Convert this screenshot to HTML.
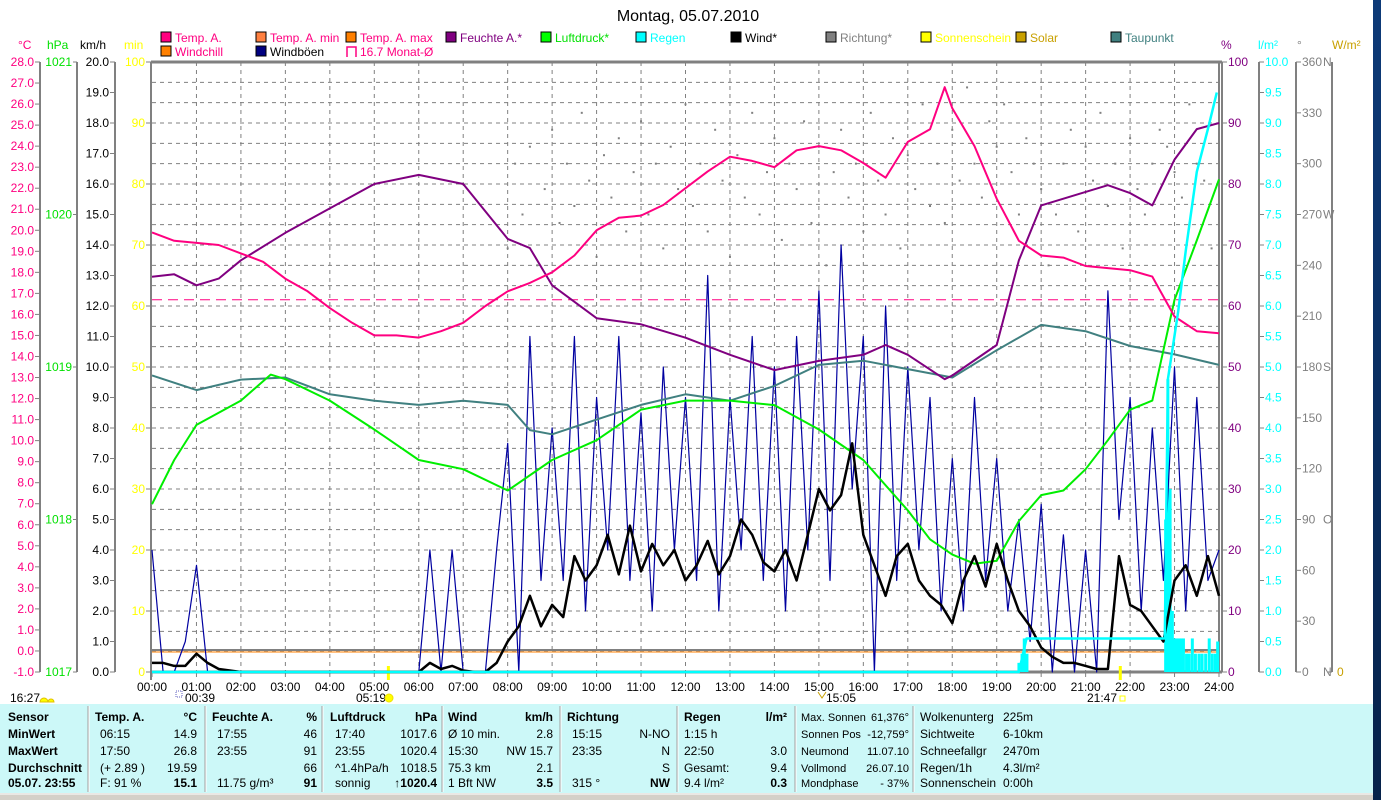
<!DOCTYPE html>
<html><head><meta charset="utf-8"><style>
html,body{margin:0;padding:0;background:#fff;}
svg{display:block;font-family:"Liberation Sans",sans-serif;}
</style></head><body>
<svg id="chart" width="1381" height="800" viewBox="0 0 1381 800" xmlns="http://www.w3.org/2000/svg">
<rect x="0" y="0" width="1381" height="800" fill="#fff"/>
<defs><linearGradient id="strip" x1="0" y1="0" x2="0" y2="1"><stop offset="0" stop-color="#0d3a78"/><stop offset="1" stop-color="#06224a"/></linearGradient></defs>
<rect x="1373" y="0" width="8" height="800" fill="url(#strip)"/>
<text x="688" y="21" font-size="16" text-anchor="middle" fill="#000">Montag, 05.07.2010</text>
<g id="legend"></g>
<g id="axes"></g>
<g id="grid"></g>
<g id="series"></g>
<g id="table"></g>
</svg>
<script>
// ---------- data ----------
const tempTimes=[0,0.5,1,1.5,2,2.5,3,3.5,4,4.5,5,5.5,6,6.5,7,7.5,8,8.5,9,9.5,10,10.5,11,11.5,12,12.5,13,13.5,14,14.5,15,15.5,16,16.5,17,17.5,17.83,18,18.5,19,19.5,20,20.5,21,21.5,22,22.5,23,23.5,24];
const tempVals=[19.9,19.5,19.4,19.3,18.9,18.5,17.7,17.1,16.3,15.6,15.0,15.0,14.9,15.2,15.6,16.4,17.1,17.5,18.0,18.8,20.0,20.6,20.7,21.2,22.0,22.8,23.5,23.3,23.0,23.8,24.0,23.8,23.2,22.5,24.2,24.8,26.8,25.8,24.0,21.5,19.5,18.8,18.7,18.3,18.2,18.1,17.8,15.9,15.2,15.1];
const humTimes=[0,0.5,1,1.5,2,3,4,5,6,7,8,8.5,9,10,11,12,13,14,15,16,16.5,17,17.83,18,19,19.5,20,21,21.5,22,22.5,23,23.5,24];
const humVals=[64.8,65.2,63.4,64.5,67.5,72,76,80,81.5,80,71,69.5,63.4,58,57,54.8,52,49.5,51,52,53.6,52,48,48.6,53.6,67.5,76.5,78.7,79.8,78.5,76.5,84,89,90];
const presTimes=[0,0.5,1,2,2.67,3,4,5,6,7,8,9,10,11,12,13,14,15,16,17,17.5,18,18.5,19,19.5,20,20.5,21,21.5,22,22.5,23,23.5,24];
const presVals=[1018.1,1018.39,1018.62,1018.78,1018.95,1018.92,1018.78,1018.59,1018.39,1018.33,1018.19,1018.39,1018.52,1018.72,1018.78,1018.78,1018.75,1018.59,1018.39,1018.06,1017.87,1017.77,1017.71,1017.73,1017.99,1018.16,1018.19,1018.33,1018.52,1018.72,1018.78,1019.44,1019.83,1020.23];
const dewTimes=[0,1,2,3,4,5,6,7,8,8.5,9,10,11,12,13,14,15,16,17,18,19,20,21,22,23,24];
const dewVals=[13.1,12.4,12.9,13.0,12.2,11.9,11.7,11.9,11.7,10.5,10.3,11.0,11.7,12.2,11.9,12.6,13.6,13.8,13.4,13.0,14.3,15.5,15.2,14.5,14.1,13.6];
const windVals=[0.3,0.3,0.2,0.2,0.6,0.3,0.1,0.05,0,0,0,0,0,0,0,0,0,0,0,0,0,0,0,0,0,0.3,0.1,0.2,0.05,0,0,0.3,1.0,1.5,2.5,1.5,2.2,1.8,3.8,3.0,3.5,4.5,3.2,4.8,3.3,4.2,3.5,4.0,3.0,3.5,4.3,3.2,3.8,5.0,4.5,3.6,3.3,4.0,3.0,4.5,6.0,5.3,5.8,7.5,4.5,3.5,2.5,3.8,4.2,3.0,2.5,2.2,1.6,3.0,3.8,2.8,4.2,3.0,2.0,1.5,0.8,0.5,0.3,0.3,0.2,0.1,0.1,3.8,2.2,2.0,1.5,1.0,3.0,3.5,2.5,3.8,2.5];
const gustVals=[4.0,0,0,1.0,3.5,0,0,0,0,0,0,0,0,0,0,0,0,0,0,0,0,0,0,0,0,4.0,0,4.0,0,0,0,4.0,7.5,0,11.0,3.0,8.0,3.0,11.0,2.0,9.0,4.0,11.0,3.0,8.5,2.0,10.0,4.0,9.0,3.0,13.0,2.0,9.0,4.0,11.0,3.0,10.0,2.0,11.0,4.0,12.5,3.0,14.0,6.0,11.0,0,12.0,3.0,10.0,4.0,9.0,2.0,7.0,2.0,9.0,3.0,7.0,2.0,5.0,1.0,5.5,0,4.5,0,4.0,0,12.5,5.0,9.0,2.0,8.0,3.0,10.0,2.0,9.0,3.0,4.0];
const rainTimes=[0,19.5,19.67,22.78,22.85,23.08,23.25,23.5,23.75,23.95];
const rainVals=[0,0,0.55,0.55,4.8,5.9,6.9,8.2,8.9,9.5];
const rainBarTimes=[19.5,19.57,19.62,19.68,22.8,22.85,22.9,22.95,23.0,23.05,23.1,23.15,23.2,23.27,23.33,23.4,23.47,23.55,23.62,23.7,23.78,23.85,23.92,23.97];
const rainBarVals=[0.15,0.3,0.55,0.3,2.5,4.8,3.0,1.0,0.55,0.55,0.55,0.55,0.55,0.3,0.3,0.55,0.3,0.3,0.3,0.3,0.55,0.3,0.3,0.5];
const dirVals=[250,300,270,310,240,285,320,265,300,275,330,290,245,305,280,315,260,295,325,270,300,250,310,285,335,275,300,260,320,290,245,305,280,330,270,295,315,255,300,285,325,265,310,240,295,320,280,300,260,330,290,270,315,250,305,285,335,275,300,265,320,290,345,300,280,325,310,335,295,270,315,300,285,240,270,300,320,260,310,290,330,275,300,250,315,285,270,300,320,310,295,280,335,300,290,250,310];
const monthAvg=16.7;
const tempTicks=[28,27,26,25,24,23,22,21,20,19,18,17,16,15,14,13,12,11,10,9,8,7,6,5,4,3,2,1,0,-1];
const hpaTicks=[1021,1020,1019,1018,1017];
const kmhTicks=[20,19,18,17,16,15,14,13,12,11,10,9,8,7,6,5,4,3,2,1,0];
const minTicks=[100,90,80,70,60,50,40,30,20,10,0];
const pctTicks=[100,90,80,70,60,50,40,30,20,10,0];
const rainTicks=[10,9.5,9,8.5,8,7.5,7,6.5,6,5.5,5,4.5,4,3.5,3,2.5,2,1.5,1,0.5,0];
const degTicks=[360,330,300,270,240,210,180,150,120,90,60,30,0];
const degLetters={360:"N",270:"W",180:"S",90:"O",0:"N"};
const hourLabels=["00:00","01:00","02:00","03:00","04:00","05:00","06:00","07:00","08:00","09:00","10:00","11:00","12:00","13:00","14:00","15:00","16:00","17:00","18:00","19:00","20:00","21:00","22:00","23:00","24:00"];

// ---------- scales ----------
const X0=152,X1=1219,YB=672,YT=62,H=YB-YT;
const xT=h=>X0+h*(X1-X0)/24;
const yTemp=t=>YB-(t+1)*H/29;
const yHum=v=>YB-v*H/100;
const yPres=p=>YB-(p-1017)*H/4;
const yKmh=v=>YB-v*H/20;
const yRain=r=>YB-r*H/10;
const yDeg=d=>YB-d*H/360;
const NS="http://www.w3.org/2000/svg";
function mk(parent,tag,attrs,txt){const e=document.createElementNS(NS,tag);for(const k in attrs)e.setAttribute(k,attrs[k]);if(txt!==undefined)e.textContent=txt;parent.appendChild(e);return e;}

const gGrid=document.getElementById('grid'),gAx=document.getElementById('axes'),gS=document.getElementById('series'),gL=document.getElementById('legend'),gT=document.getElementById('table');

for(let i=1;i<30;i++){const y=YT+i*H/30;const l=mk(gGrid,'line',{x1:X0,x2:X1,y1:y,y2:y,stroke:'#808080','stroke-dasharray':'4,4','stroke-width':1});

}
for(let h=1;h<24;h++){const x=xT(h);const l=mk(gGrid,'line',{x1:x,x2:x,y1:YT,y2:YB,stroke:'#808080','stroke-dasharray':'4,4','stroke-width':1});

}
mk(gAx,'line',{x1:X0-1,x2:X1+3,y1:YT,y2:YT,stroke:'#808080','stroke-width':3});
mk(gAx,'line',{x1:X0-1,x2:X0-1,y1:YT,y2:YB+8,stroke:'#808080','stroke-width':2});
mk(gAx,'line',{x1:X1,x2:X1,y1:YT,y2:YB,stroke:'#808080','stroke-width':2});
mk(gAx,'line',{x1:X1+3,x2:X1+3,y1:YT,y2:YB,stroke:'#808080','stroke-width':2});
mk(gAx,'line',{x1:X0-1,x2:X1+3,y1:YB,y2:YB,stroke:'#808080','stroke-width':3});

function axisLabel(x,y,t,col,anchor,name){const e=mk(gAx,'text',{x:x,y:y,'font-size':12,fill:col,'text-anchor':anchor},t);

return e;}
mk(gAx,'line',{x1:40,x2:40,y1:YT,y2:YB,stroke:'#808080','stroke-width':2});
mk(gAx,'line',{x1:77,x2:77,y1:YT,y2:YB,stroke:'#808080','stroke-width':2});
mk(gAx,'line',{x1:115,x2:115,y1:YT,y2:YB,stroke:'#808080','stroke-width':2});
tempTicks.forEach(t=>{const y=yTemp(t);mk(gAx,'line',{x1:35,x2:40,y1:y,y2:y,stroke:'#808080'});axisLabel(34,y+4,t.toFixed(1),'#ff0080','end','temp-tick-label');});
hpaTicks.forEach(p=>{const y=yPres(p);mk(gAx,'line',{x1:73,x2:77,y1:y,y2:y,stroke:'#808080'});axisLabel(72,y+4,String(p),'#00e000','end','hpa-tick-label');});
kmhTicks.forEach(v=>{const y=yKmh(v);mk(gAx,'line',{x1:110,x2:115,y1:y,y2:y,stroke:'#808080'});axisLabel(109,y+4,v.toFixed(1),'#000','end','kmh-tick-label');});
minTicks.forEach(v=>{const y=yHum(v);mk(gAx,'line',{x1:146,x2:151,y1:y,y2:y,stroke:'#808080'});axisLabel(145,y+4,String(v),'#ffff00','end','min-tick-label');});
mk(gAx,'line',{x1:1259,x2:1259,y1:YT,y2:YB,stroke:'#808080','stroke-width':2});
mk(gAx,'line',{x1:1296,x2:1296,y1:YT,y2:YB,stroke:'#808080','stroke-width':2});
mk(gAx,'line',{x1:1332,x2:1332,y1:YT,y2:YB,stroke:'#808080','stroke-width':2});
pctTicks.forEach(v=>{const y=yHum(v);mk(gAx,'line',{x1:1222,x2:1227,y1:y,y2:y,stroke:'#808080'});axisLabel(1228,y+4,String(v),'#800080','start','pct-tick-label');});
rainTicks.forEach(v=>{const y=yRain(v);mk(gAx,'line',{x1:1259,x2:1264,y1:y,y2:y,stroke:'#808080'});axisLabel(1265,y+4,v.toFixed(1),'#00ffff','start','rain-tick-label');});
degTicks.forEach(v=>{const y=yDeg(v);mk(gAx,'line',{x1:1296,x2:1301,y1:y,y2:y,stroke:'#808080'});axisLabel(1302,y+4,String(v),'#808080','start','deg-tick-label');if(degLetters[v])axisLabel(1323,y+4,degLetters[v],'#808080','start','compass-label');});
mk(gAx,'line',{x1:1328,x2:1332,y1:YB,y2:YB,stroke:'#808080'});
axisLabel(1337,YB+4,'0','#c8a000','start','solar-tick-label');
[["°C",18,'#ff0080'],["hPa",47,'#00e000'],["km/h",80,'#000'],["min",124,'#ffff00'],["%",1221,'#800080'],["l/m²",1258,'#00ffff'],["°",1297,'#808080'],["W/m²",1332,'#c8a000']].forEach(a=>axisLabel(a[1],49,a[0],a[2],'start','axis-unit-title'));
hourLabels.forEach((l,i)=>{const x=xT(i);mk(gAx,'line',{x1:x,x2:x,y1:YB,y2:YB+5,stroke:'#808080'});axisLabel(x,691,l,'#000','middle','x-tick-label');});
axisLabel(10,702,'16:27','#000','start','sunset-time');
mk(gAx,'path',{d:'M40 702 a4 4 0 0 1 8 0 a3 3 0 0 1 6 0 z',fill:'#ffff00',stroke:'#e0c000'});
axisLabel(185,702,'00:39','#000','start','moonrise-time');
mk(gAx,'rect',{x:176,y:691,width:6,height:6,fill:'none',stroke:'#6060c0','stroke-dasharray':'1,1'});
axisLabel(356,702,'05:19','#000','start','sunrise-time');
mk(gAx,'circle',{cx:389,cy:698,r:4,fill:'#ffff00',stroke:'#f0e000'});
mk(gAx,'line',{x1:xT(5.317),x2:xT(5.317),y1:666,y2:680,stroke:'#ffff00','stroke-width':3});
axisLabel(826,702,'15:05','#000','start','noon-time');
mk(gAx,'path',{d:'M818 692 l4 6 l4 -6',fill:'none',stroke:'#c8a000'});
axisLabel(1087,702,'21:47','#000','start','sunset-event-time');
mk(gAx,'rect',{x:1120,y:696,width:5,height:5,fill:'none',stroke:'#ffff00'});
mk(gAx,'line',{x1:xT(21.78),x2:xT(21.78),y1:666,y2:680,stroke:'#ffff00','stroke-width':3});

function line(times,vals,yf,col,w,name){const pts=times.map((t,i)=>xT(t).toFixed(1)+','+yf(vals[i]).toFixed(1)).join(' ');
const p=mk(gS,'polyline',{points:pts,fill:'none',stroke:col,'stroke-width':w,'stroke-linejoin':'round'});

return p;}
mk(gS,'line',{x1:X0,x2:X1,y1:650,y2:650,stroke:'#808080','stroke-width':2});
mk(gS,'line',{x1:X0,x2:X1,y1:652,y2:652,stroke:'#ff8000','stroke-width':1});
const ma=mk(gS,'line',{x1:X0,x2:X1,y1:yTemp(monthAvg),y2:yTemp(monthAvg),stroke:'#ff0080','stroke-dasharray':'10,6','stroke-width':1});


dirVals.forEach((d,i)=>{const r=mk(gS,'rect',{x:xT(8+i/6)-1,y:yDeg(d)-1,width:2,height:2,fill:'#808080'});

});
rainBarTimes.forEach((t,i)=>{const y=yRain(rainBarVals[i]);const r=mk(gS,'rect',{x:xT(t)-1.5,y:y,width:3,height:YB-y,fill:'#00ffff'});

});
const qT=gustVals.map((v,i)=>i*0.25);
line(qT,gustVals,yKmh,'#0000a0',1.2,'gust-line');
line(dewTimes,dewVals,yTemp,'#408080',2,'dewpoint-line');
line(presTimes,presVals,yPres,'#00ee00',2,'pressure-line');
line(humTimes,humVals,yHum,'#800080',2,'humidity-line');
line(tempTimes,tempVals,yTemp,'#ff0080',2,'temperature-line');
line(qT,windVals,yKmh,'#000',2.5,'wind-line');
line(rainTimes,rainVals,yRain,'#00ffff',2.5,'rain-cumulative-line');

const legendItems=[
 ["Temp. A.",161,36,'#ff0080','#ff0080'],["Temp. A. min",256,36,'#ff8040','#ff0080'],["Temp. A. max",346,36,'#ff8000','#ff0080'],["Feuchte A.*",446,36,'#800080','#800080'],["Luftdruck*",541,36,'#00ff00','#00e000'],["Regen",636,36,'#00ffff','#00ffff'],["Wind*",731,36,'#000','#000'],["Richtung*",826,36,'#808080','#808080'],["Sonnenschein",921,36,'#ffff00','#ffff00'],["Solar",1016,36,'#c8a000','#c8a000'],["Taupunkt",1111,36,'#408080','#408080'],
 ["Windchill",161,50,'#ff8000','#ff0080'],["Windböen",256,50,'#000080','#000']];
legendItems.forEach(it=>{const g=mk(gL,'g',{});


mk(g,'rect',{x:it[1],y:it[2]-4,width:10,height:10,fill:it[3],stroke:'#000'});
mk(g,'text',{x:it[1]+14,y:it[2]+6,'font-size':12,fill:it[4]},it[0]);});
const mg=mk(gL,'g',{});


mk(mg,'path',{d:'M347 57 v-10 h9 v10',fill:'none',stroke:'#ff0080','stroke-width':1.5});
mk(mg,'text',{x:360,y:56,'font-size':12,fill:'#ff0080'},'16.7 Monat-Ø');

mk(gT,'rect',{x:0,y:704,width:1373,height:90,fill:'#ccf8f8'});
mk(gT,'rect',{x:0,y:793,width:1373,height:7,fill:'#d4d0c8'});
mk(gT,'line',{x1:0,x2:1373,y1:794,y2:794,stroke:'#fff'});
[88,205,322,442,560,677,795,913].forEach(x=>{mk(gT,'line',{x1:x,x2:x,y1:706,y2:792,stroke:'#a0a0a0'});mk(gT,'line',{x1:x+1,x2:x+1,y1:706,y2:792,stroke:'#fff'});});
const rows=[721,738,755,772,787];
function tt(x,ri,t,anchor,bold,fs){const e=mk(gT,'text',{x:x,y:rows[ri],'font-size':fs||12,fill:'#000','text-anchor':anchor||'start','font-weight':bold?'bold':'normal'},t);

}
["Sensor","MinWert","MaxWert","Durchschnitt","05.07. 23:55"].forEach((t,i)=>tt(8,i,t,'start',true));
const cols=[
 [95,197,["Temp. A.","06:15","17:50","(+ 2.89 )","F: 91 %"],["°C","14.9","26.8","19.59","15.1"]],
 [212,317,["Feuchte A.","17:55","23:55","","11.75 g/m³"],["%","46","91","66","91"]],
 [330,437,["Luftdruck"," 17:40"," 23:55","^1.4hPa/h","sonnig"],["hPa","1017.6","1020.4","1018.5","↑1020.4"]],
 [448,553,["Wind","Ø 10 min."," 15:30"," 75.3 km"," 1 Bft NW"],["km/h","2.8","NW 15.7","2.1","3.5"]],
 [567,670,["Richtung"," 15:15"," 23:35",""," 315 °"],["","N-NO","N","S","NW"]],
 [684,787,["Regen","1:15 h","  22:50","Gesamt:"," 9.4 l/m²"],["l/m²","","3.0","9.4","0.3"]]];
cols.forEach(c=>{c[2].forEach((t,i)=>{if(t)tt(c[0]+(i>0&&c[0]!==684&&c[0]!==448?5:0),i,t.trim(),'start',i===0);});c[3].forEach((t,i)=>{if(t)tt(c[1],i,t,'end',i===0||i===4);});});
["Max. Sonnen","Sonnen Pos","Neumond","Vollmond","Mondphase"].forEach((t,i)=>tt(801,i,t,'start',false,11));
["61,376°","-12,759°","11.07.10","26.07.10","- 37%"].forEach((t,i)=>tt(909,i,t,'end',false,11));
["Wolkenunterg","Sichtweite","Schneefallgr","Regen/1h","Sonnenschein"].forEach((t,i)=>tt(920,i,t,'start',false));
["225m","6-10km","2470m","4.3l/m²","0:00h"].forEach((t,i)=>tt(1003,i,t,'start',false));
</script>
</body></html>
